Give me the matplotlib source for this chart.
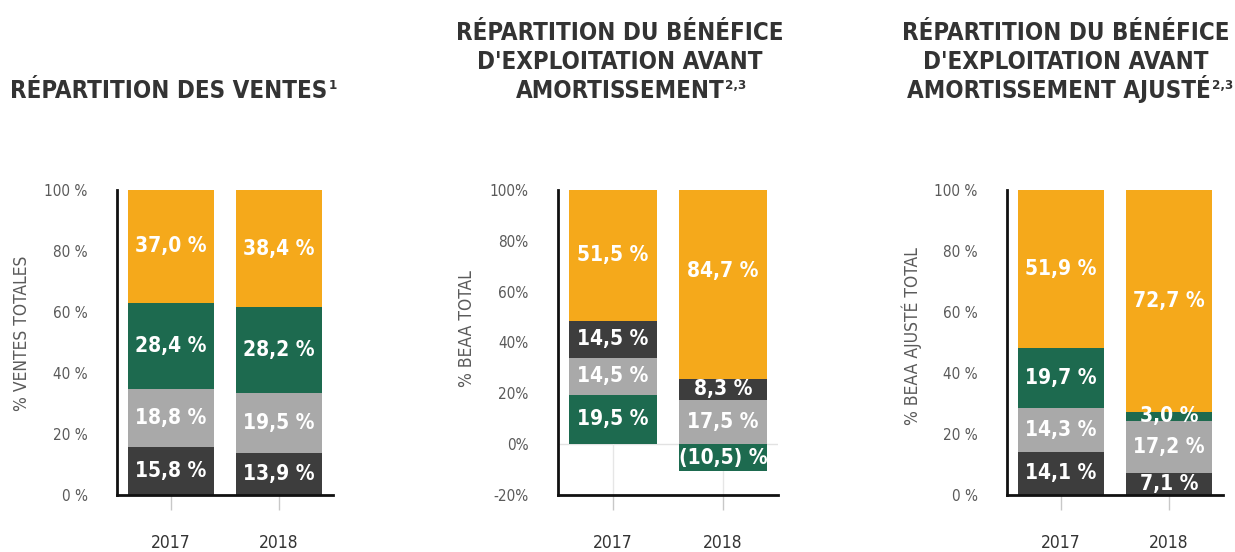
import matplotlib
matplotlib.use("Agg")
import matplotlib.pyplot as plt
import numpy as np

# ---------------- data ----------------
years = ["2017", "2018"]

ventes_dark = [15.8, 13.9]
ventes_gray = [18.8, 19.5]
ventes_green = [28.4, 28.2]
ventes_orange = [37.0, 38.4]

beaa_green = [19.5, -10.5]
beaa_gray = [14.5, 17.5]
beaa_dark = [14.5, 8.3]
beaa_orange = [51.5, 84.7]

ajuste_dark = [14.1, 7.1]
ajuste_gray = [14.3, 17.2]
ajuste_green = [19.7, 3.0]
ajuste_orange = [51.9, 72.7]

ticks_std = [0, 20, 40, 60, 80, 100]
ticks_beaa = [-20, 0, 20, 40, 60, 80, 100]

titles = [
    (["RÉPARTITION DES VENTES"], "1"),
    (["RÉPARTITION DU BÉNÉFICE", "D'EXPLOITATION AVANT", "AMORTISSEMENT"], "2,3"),
    (["RÉPARTITION DU BÉNÉFICE", "D'EXPLOITATION AVANT", "AMORTISSEMENT AJUSTÉ"], "2,3"),
]
ylabels = ["% VENTES TOTALES", "% BEAA TOTAL", "% BEAA AJUSTÉ TOTAL"]

# ---------------- style ----------------
C_ORANGE = "#F5A91B"
C_GREEN = "#1D6A4F"
C_GRAY = "#A9A9A9"
C_DARK = "#3D3D3D"
plt.rcParams["font.family"] = ["DejaVu Sans"]
plt.rcParams["font.stretch"] = "condensed"

W, H = 1235, 552
fig = plt.figure(figsize=(W / 100, H / 100), dpi=100)
fig.patch.set_facecolor("white")


def px_axes(left, right, top, bottom):
    return fig.add_axes([left / W, 1 - bottom / H, (right - left) / W, (bottom - top) / H])


def fmt_val(v):
    s = f"{abs(v):.1f}".replace(".", ",")
    return f"({s}) %" if v < 0 else f"{s} %"


charts = [
    dict(box=(117, 333, 190, 495), ylim=(0, 100), ticks=ticks_std, space=True,
         series=[(ventes_dark, C_DARK), (ventes_gray, C_GRAY), (ventes_green, C_GREEN), (ventes_orange, C_ORANGE)],
         ylab=(22, 333), tcenter=169, lastcenter=169),
    dict(box=(558, 778, 190, 495), ylim=(-20, 100), ticks=ticks_beaa, space=False,
         series=[(beaa_green, C_GREEN), (beaa_gray, C_GRAY), (beaa_dark, C_DARK), (beaa_orange, C_ORANGE)],
         ylab=(467, 329), tcenter=620, lastcenter=620),
    dict(box=(1007, 1223, 190, 495), ylim=(0, 100), ticks=ticks_std, space=True,
         series=[(ajuste_dark, C_DARK), (ajuste_gray, C_GRAY), (ajuste_green, C_GREEN), (ajuste_orange, C_ORANGE)],
         ylab=(912, 336), tcenter=1066, lastcenter=1059),
]

x = np.arange(len(years))
for i, ch in enumerate(charts):
    l, r, t, b = ch["box"]
    ax = px_axes(l, r, t, b)
    pos_base = np.zeros(len(years))
    neg_base = np.zeros(len(years))
    for vals, col in ch["series"]:
        vals = np.array(vals, dtype=float)
        bottoms = np.where(vals >= 0, pos_base, neg_base)
        ax.bar(x, vals, bottom=bottoms, width=0.8, color=col, edgecolor="none", zorder=3)
        for xi, v, b0 in zip(x, vals, bottoms):
            ax.text(xi, b0 + v / 2, fmt_val(v), ha="center", va="center",
                    color="white", fontsize=15, fontweight="bold", zorder=5)
        pos_base = np.where(vals >= 0, pos_base + vals, pos_base)
        neg_base = np.where(vals < 0, neg_base + vals, neg_base)

    ax.set_xlim(-0.5, 1.5)
    ax.set_ylim(*ch["ylim"])
    ax.set_yticks(ch["ticks"])
    sp = " " if ch["space"] else ""
    ax.set_yticklabels([f"{v}{sp}%" for v in ch["ticks"]], fontsize=11, color="#5a5a5a")
    ax.tick_params(axis="y", length=0, pad=21)
    ax.set_xticks(x)
    ax.set_xticklabels(years, fontsize=12.5, color="#333333")
    ax.tick_params(axis="x", length=11, width=1, color="#C8C8C8", pad=17, direction="out")
    for s in ["top", "right"]:
        ax.spines[s].set_visible(False)
    for s in ["left", "bottom"]:
        ax.spines[s].set_linewidth(2)
        ax.spines[s].set_color("#111111")
        ax.spines[s].set_zorder(6)
    if ch["ylim"][0] < 0:
        ax.axhline(0, color="#E2E2E2", lw=1, zorder=1)
        for xi in x:
            ax.plot([xi, xi], [ch["ylim"][0], 0], color="#E6E6E6", lw=1, zorder=1)
    ax.set_facecolor("none")
    fig.text(ch["ylab"][0] / W, 1 - ch["ylab"][1] / H, ylabels[i], rotation=90,
             ha="center", va="center", fontsize=12.5, color="#5a5a5a")

# ---------------- titles ----------------
fig.canvas.draw()
renderer = fig.canvas.get_renderer()
for ch, (lines, sup) in zip(charts, titles):
    n = len(lines)
    last = None
    for k, line in enumerate(lines):
        baseline = 98 - (n - 1 - k) * 29
        cx = ch["lastcenter"] if k == n - 1 else ch["tcenter"]
        last = fig.text(cx / W, 1 - baseline / H, line, ha="center", va="baseline",
                        fontsize=17.3, fontweight="bold", color="#333333")
    bb = last.get_window_extent(renderer=renderer)
    fig.text((bb.x1 + 1) / W, (1 - 98 / H) + 9 / H, sup, ha="left", va="baseline",
             fontsize=9.5, fontweight="bold", color="#333333")

fig.savefig("out.png", dpi=100, facecolor="white")
